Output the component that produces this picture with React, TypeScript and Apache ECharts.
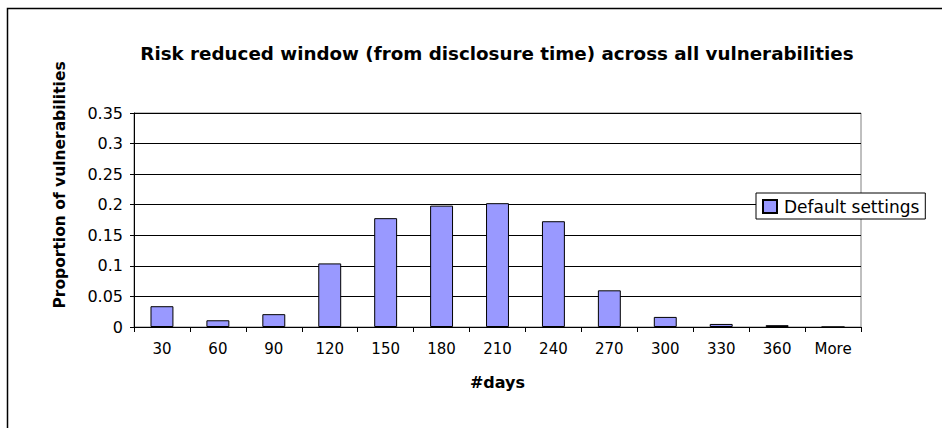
import React, { useEffect, useRef } from "react";
import * as echarts from "echarts";

const categories = ["30", "60", "90", "120", "150", "180", "210", "240", "270", "300", "330", "360", "More"];
const defaultSettings = [0.034, 0.011, 0.021, 0.104, 0.178, 0.1985, 0.2025, 0.173, 0.06, 0.0165, 0.005, 0.003, 0];
const yTicks = [0, 0.05, 0.1, 0.15, 0.2, 0.25, 0.3, 0.35];

const FONT = "'DejaVu Sans', 'Liberation Sans', Arial, sans-serif";

export default function App() {
  const ref = useRef<HTMLDivElement>(null);
  useEffect(() => {
    if (!ref.current) return;
    const chart = echarts.init(ref.current, null, { renderer: "svg" });
    chart.setOption({
      animation: false,
      backgroundColor: "#ffffff",
      textStyle: { fontFamily: FONT },
      title: {
        text: "Risk reduced window (from disclosure time) across all vulnerabilities",
        left: 492,
        textAlign: "center",
        top: 39,
        textStyle: { fontFamily: FONT, fontSize: 18.3, fontWeight: "bold", color: "#000" },
      },
      graphic: [
        {
          type: "rect",
          shape: { x: 7.5, y: 8.5, width: 960, height: 440 },
          style: { fill: "none", stroke: "#000", lineWidth: 1.5 },
          silent: true,
        },
      ],
      legend: {
        left: 756,
        top: 193,
        orient: "vertical",
        padding: [5, 6, 4, 6],
        itemWidth: 14,
        itemHeight: 13,
        itemGap: 6,
        borderColor: "#000",
        borderWidth: 1,
        backgroundColor: "#fff",
        borderRadius: 0,
        icon: "rect",
        textStyle: { fontFamily: FONT, fontSize: 17, color: "#000", padding: [0, 0, 0, 2] },
        data: ["Default settings"],
      },
      grid: {
        left: 134,
        right: 81,
        top: 113,
        bottom: 101,
        show: true,
        borderColor: "#808080",
        borderWidth: 1,
        backgroundColor: "transparent",
      },
      xAxis: {
        type: "category",
        data: categories,
        boundaryGap: true,
        name: "#days",
        nameLocation: "middle",
        nameGap: 47,
        nameTextStyle: { fontFamily: FONT, fontSize: 16, fontWeight: "bold", color: "#000" },
        axisLine: { show: true, lineStyle: { color: "#000", width: 1 } },
        axisTick: { show: true, length: 5, alignWithLabel: false, lineStyle: { color: "#000" } },
        axisLabel: { fontFamily: FONT, fontSize: 15, color: "#000", margin: 14 },
        splitLine: { show: false },
      },
      yAxis: {
        type: "value",
        min: yTicks[0],
        max: yTicks[yTicks.length - 1],
        interval: 0.05,
        name: "Proportion of vulnerabilities",
        nameLocation: "middle",
        nameGap: 66,
        nameTextStyle: { fontFamily: FONT, fontSize: 15.5, fontWeight: "bold", color: "#000", padding: [0, 0, 0, 70] },
        axisLine: { show: true, lineStyle: { color: "#000", width: 1 } },
        axisTick: { show: true, length: 4, inside: false, lineStyle: { color: "#000" } },
        axisLabel: {
          fontFamily: FONT,
          fontSize: 16,
          color: "#000",
          margin: 11,
          formatter: (v: number) => String(parseFloat(v.toFixed(2))),
        },
        splitLine: { show: true, lineStyle: { color: "#000", width: 1 } },
      },
      series: [
        {
          name: "Default settings",
          type: "bar",
          data: defaultSettings,
          barWidth: "41%",
          itemStyle: { color: "#9999ff", borderColor: "#000", borderWidth: 1 },
        },
      ],
    });
    return () => chart.dispose();
  }, []);
  return <div ref={ref} style={{ width: 942, height: 428, position: "fixed", left: 0, top: 0 }} />;
}
